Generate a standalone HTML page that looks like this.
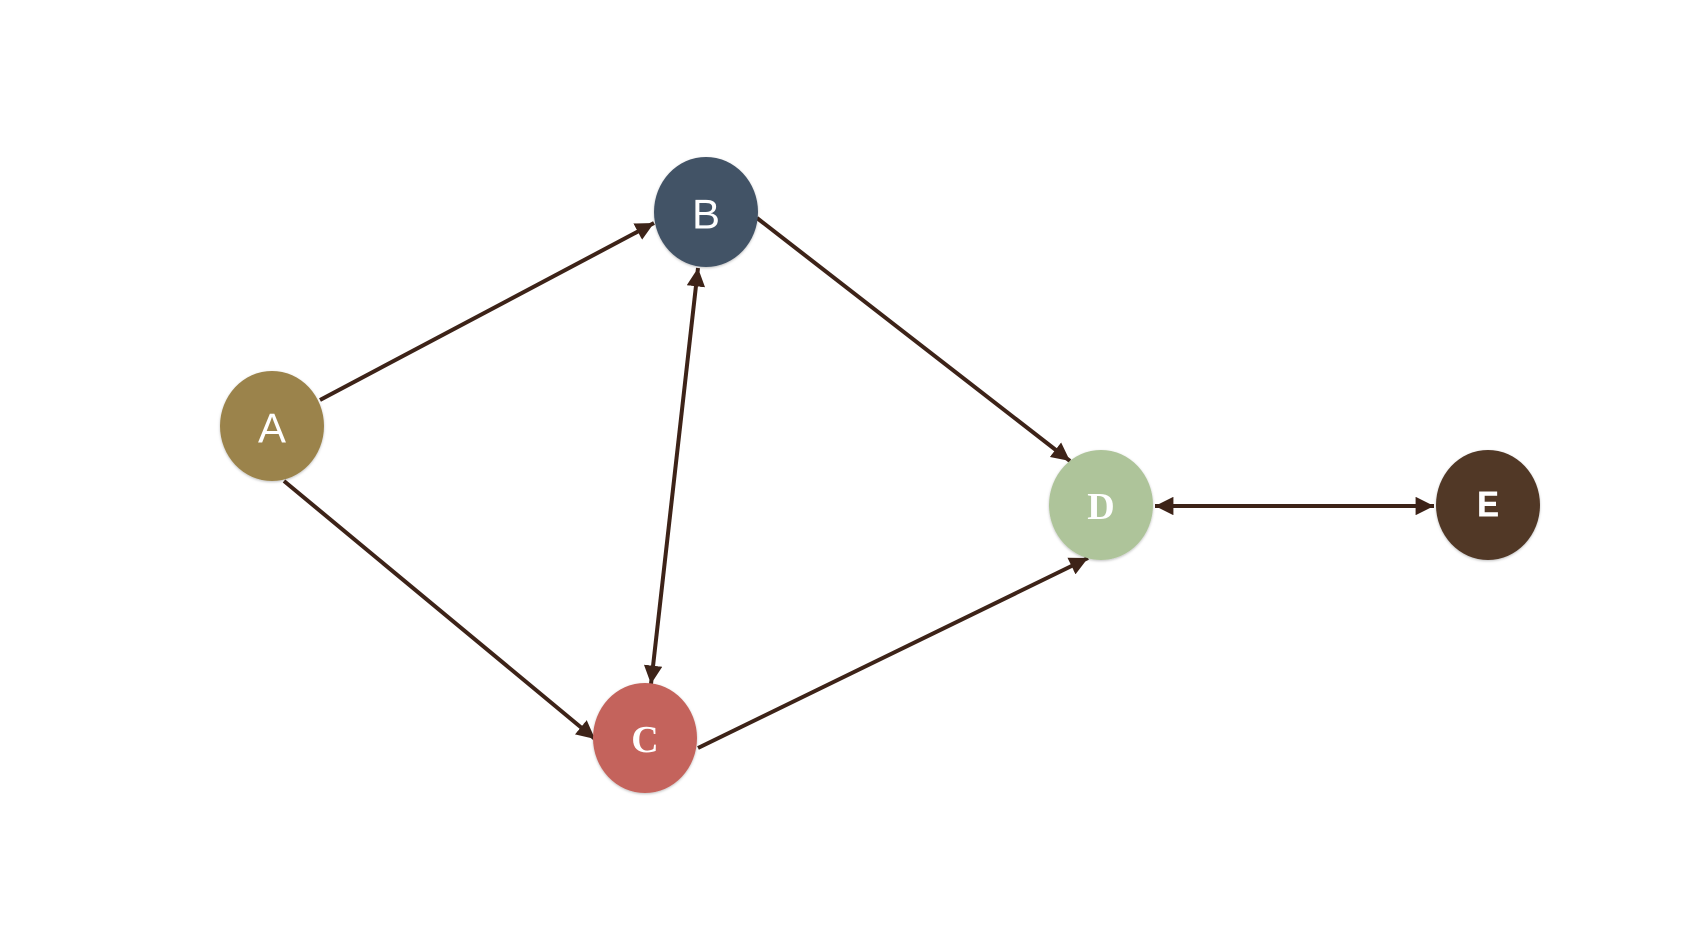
<!DOCTYPE html>
<html><head><meta charset="utf-8"><style>
html,body{margin:0;padding:0;background:#fff;}
svg{display:block;}
text{fill:#fff;text-anchor:middle;dominant-baseline:central;}
.s{font-family:"Liberation Sans",sans-serif;font-size:42px;}
.r{font-family:"Liberation Serif",serif;font-size:38px;font-weight:bold;}
.m{font-family:"Liberation Mono",monospace;font-size:38px;font-weight:bold;}
</style></head><body>
<svg width="1692" height="940" viewBox="0 0 1692 940" xmlns="http://www.w3.org/2000/svg">
<defs>
<marker id="ar" viewBox="0 0 10 10" refX="10" refY="5" markerWidth="4.6" markerHeight="4.6" orient="auto-start-reverse" markerUnits="strokeWidth">
<path d="M0,0 L10,5 L0,10 z" fill="#3d2318"/>
</marker>
<filter id="sh" x="-20%" y="-20%" width="140%" height="140%"><feDropShadow dx="0" dy="1" stdDeviation="1.2" flood-color="#000" flood-opacity="0.25"/></filter>
</defs>
<g stroke="#3d2318" stroke-width="4" fill="none">
<line x1="320" y1="400" x2="654" y2="223" marker-end="url(#ar)"/>
<line x1="284" y1="481" x2="595" y2="739" marker-end="url(#ar)"/>
<line x1="651" y1="684" x2="698" y2="268" marker-start="url(#ar)" marker-end="url(#ar)"/>
<line x1="757" y1="218" x2="1070" y2="461" marker-end="url(#ar)"/>
<line x1="698" y1="748" x2="1088" y2="558" marker-end="url(#ar)"/>
<line x1="1155" y1="506" x2="1434" y2="506" marker-start="url(#ar)" marker-end="url(#ar)"/>
</g>
<g filter="url(#sh)">
<ellipse cx="272" cy="426" rx="52" ry="55" fill="#9b834c"/>
<ellipse cx="706" cy="212" rx="52" ry="55" fill="#435266"/>
<ellipse cx="645" cy="738" rx="52" ry="55" fill="#c4645b"/>
<ellipse cx="1101" cy="505" rx="52" ry="55" fill="#aec49a"/>
<ellipse cx="1488" cy="505" rx="52" ry="55" fill="#513828"/>
</g>
<text x="272" y="428" class="s">A</text>
<text x="706" y="214" class="s">B</text>
<text x="645" y="740" class="r">C</text>
<text x="1101" y="507" class="r">D</text>
<text x="1488" y="507" class="m">E</text>
</svg>
</body></html>
